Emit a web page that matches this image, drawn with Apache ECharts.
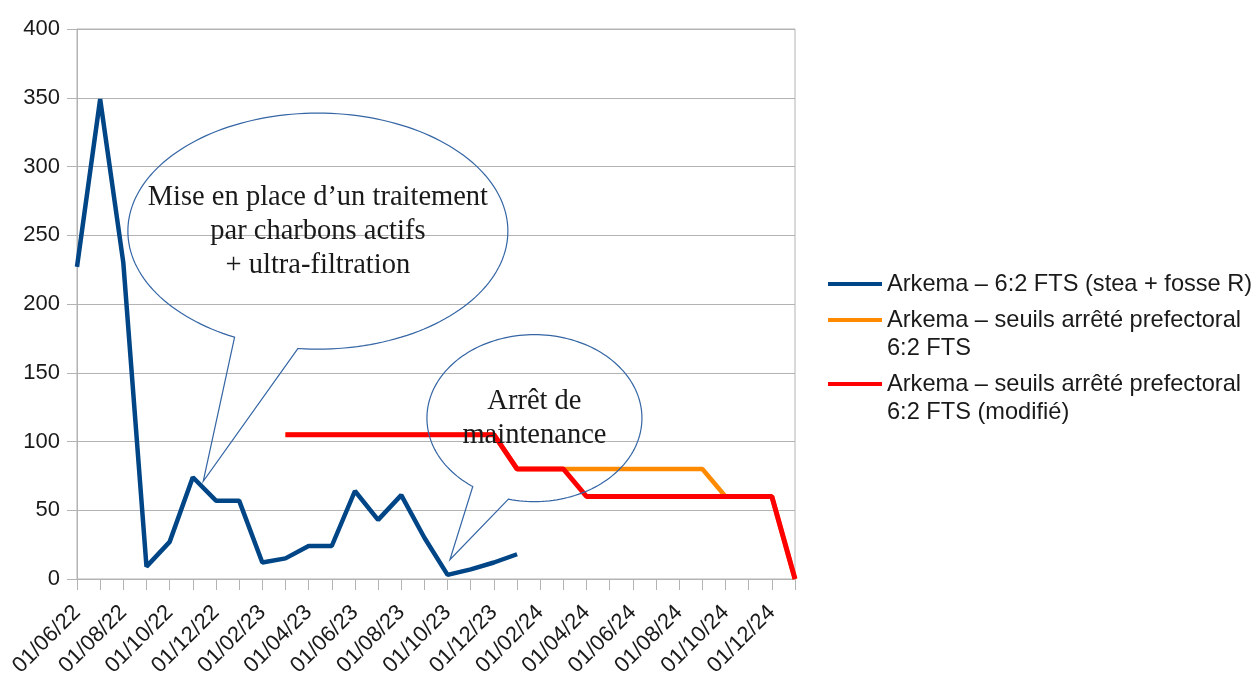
<!DOCTYPE html>
<html>
<head>
<meta charset="utf-8">
<script src="https://cdn.jsdelivr.net/npm/echarts@6/dist/echarts.min.js"></script>
<style>
  html, body { margin: 0; padding: 0; background: #fff; }
  #chart { width: 1256px; height: 677px; }
</style>
</head>
<body>
<div id="chart"></div>
<script>
// monthly categories, labels shown every other month
const categories = [
    '01/06/22', '01/07/22', '01/08/22', '01/09/22', '01/10/22', '01/11/22', '01/12/22',
    '01/01/23', '01/02/23', '01/03/23', '01/04/23', '01/05/23', '01/06/23', '01/07/23',
    '01/08/23', '01/09/23', '01/10/23', '01/11/23', '01/12/23',
    '01/01/24', '01/02/24', '01/03/24', '01/04/24', '01/05/24', '01/06/24', '01/07/24',
    '01/08/24', '01/09/24', '01/10/24', '01/11/24', '01/12/24',
    '01/01/25'
];

const seriesNames = [
    'Arkema – 6:2 FTS (stea + fosse R)',
    'Arkema – seuils arrêté prefectoral\n6:2 FTS',
    'Arkema – seuils arrêté prefectoral\n6:2 FTS (modifié)'
];

const measured = [227, 349, 230, 9, 27, 74, 57, 57, 12, 15, 24, 24, 64, 43, 61, 30, 3, 7, 12, 18];

const thresholdOrig = [
    null, null, null, null, null, null, null, null, null,
    105, 105, 105, 105, 105, 105, 105, 105, 105, 105,
    80, 80, 80, 80, 80, 80, 80, 80, 80,
    60, 60, 60,
    0
];

const thresholdMod = [
    null, null, null, null, null, null, null, null, null,
    105, 105, 105, 105, 105, 105, 105, 105, 105, 105,
    80, 80, 80,
    60, 60, 60, 60, 60, 60, 60, 60, 60,
    0
];

// callouts: tip and ellipse centre in data units (category index, value)
const callouts = [
    { lines: ['Mise en place d’un traitement', 'par charbons actifs', '+ ultra-filtration'],
      center: [10.4, 253], rx: 190, ry: 118, tip: [5.45, 71], gap: [96, 116] },
    { lines: ['Arrêt de', 'maintenance'],
      center: [19.75, 117], rx: 107.5, ry: 83.5, tip: [16.1, 14], gap: [104, 125] }
];

const gridColor = '#b3b3b3';
const textColor = '#1a1a1a';

const chart = echarts.init(document.getElementById('chart'));

const option = {
    animation: false,
    grid: {
        left: 77, right: 461, top: 29, bottom: 98,
        outerBoundsMode: 'none',
        show: true, borderColor: gridColor, borderWidth: 1
    },
    legend: {
        orient: 'vertical',
        left: 828,
        top: 270,
        padding: 0,
        itemGap: -20,
        icon: 'rect',
        itemWidth: 54,
        itemHeight: 4,
        // leading blank line keeps the icon level with the first text line
        formatter: (name) => (name.indexOf('\n') >= 0 ? '\n' + name : name),
        textStyle: {
            fontFamily: 'Liberation Sans',
            fontSize: 23.6,
            lineHeight: 28,
            color: textColor
        },
        data: seriesNames
    },
    xAxis: {
        type: 'category',
        data: categories,
        boundaryGap: false,
        axisLine: { lineStyle: { color: gridColor } },
        axisTick: { show: true, interval: 0, length: 11, lineStyle: { color: gridColor } },
        axisLabel: {
            interval: 1,
            rotate: 45,
            margin: 30,
            fontFamily: 'Liberation Sans',
            fontSize: 22,
            color: textColor
        },
        splitLine: { show: false }
    },
    yAxis: {
        type: 'value',
        min: 0,
        max: 400,
        interval: 50,
        axisLine: { show: true, lineStyle: { color: gridColor } },
        axisTick: { show: true, length: 10, lineStyle: { color: gridColor } },
        axisLabel: {
            margin: 17,
            fontFamily: 'Liberation Sans',
            fontSize: 22,
            color: textColor
        },
        splitLine: { lineStyle: { color: gridColor } }
    },
    series: [
        {
            name: seriesNames[0],
            type: 'line',
            data: measured,
            symbol: 'none',
            color: '#004586',
            lineStyle: { width: 4.5 }
        },
        {
            name: seriesNames[1],
            type: 'line',
            data: thresholdOrig,
            symbol: 'none',
            color: '#ff8a00',
            lineStyle: { width: 4.5 }
        },
        {
            name: seriesNames[2],
            type: 'line',
            data: thresholdMod,
            symbol: 'none',
            color: '#ff0000',
            lineStyle: { width: 5 }
        }
    ]
};

chart.setOption(option);

// category axis rounds fractional indices, so interpolate between two ticks
const p0 = chart.convertToPixel({ gridIndex: 0 }, [0, 0]);
const p1 = chart.convertToPixel({ gridIndex: 0 }, [1, 400]);
const toPx = (d) => [
    p0[0] + d[0] * (p1[0] - p0[0]),
    p0[1] + d[1] * (p1[1] - p0[1]) / 400
];

const graphics = [];
callouts.forEach((c) => {
    const ctr = toPx(c.center);
    const tip = toPx(c.tip);
    const pts = [];
    // outline from one side of the tail round the ellipse to the other side
    const start = c.gap[0];
    const end = c.gap[1] - 360;
    for (let a = start; a >= end; a -= 2) {
        const r = a * Math.PI / 180;
        pts.push([ctr[0] + c.rx * Math.cos(r), ctr[1] + c.ry * Math.sin(r)]);
    }
    const rEnd = end * Math.PI / 180;
    pts.push([ctr[0] + c.rx * Math.cos(rEnd), ctr[1] + c.ry * Math.sin(rEnd)]);
    pts.push(tip);
    graphics.push({
        type: 'polygon',
        shape: { points: pts },
        style: { fill: 'none', stroke: '#3465a4', lineWidth: 1.2 },
        z: 100
    });
    graphics.push({
        type: 'text',
        x: ctr[0],
        y: ctr[1],
        style: {
            text: c.lines.join('\n'),
            font: '28.5px "Liberation Serif"',
            lineHeight: 34,
            fill: textColor,
            align: 'center',
            verticalAlign: 'middle'
        },
        z: 101
    });
});

chart.setOption({ graphic: graphics });
</script>
</body>
</html>
